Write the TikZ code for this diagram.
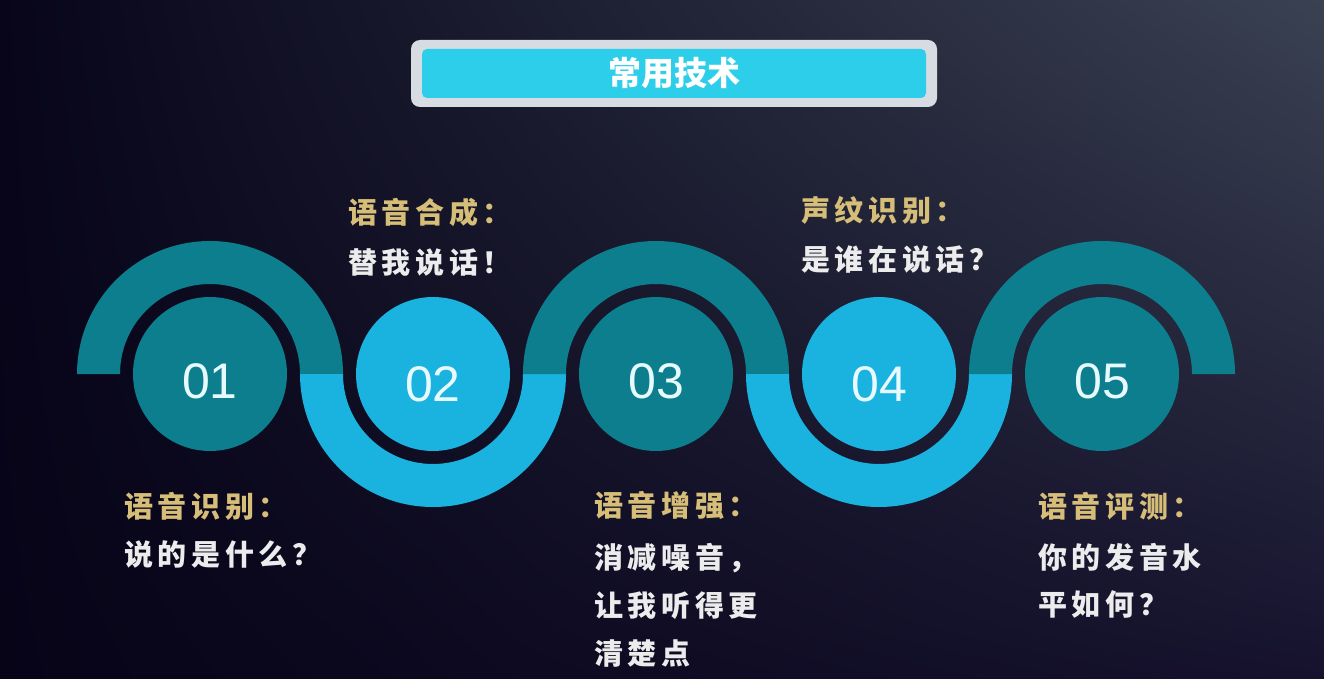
\documentclass[tikz,border=0pt]{standalone}
\usepackage{fontspec}
\usetikzlibrary{shadings}
\setmainfont{Liberation Sans}
\newfontfamily\cjk{Noto Sans CJK SC}
\newfontfamily\cjkwide[LetterSpace=16]{Noto Sans CJK SC}
\definecolor{bandteal}{RGB}{12,126,142}
\definecolor{bandcyan}{RGB}{26,178,222}
\definecolor{boxgray}{RGB}{214,220,226}
\definecolor{boxcyan}{RGB}{44,206,234}
\definecolor{goldtxt}{RGB}{214,190,120}
\definecolor{whitetxt}{RGB}{236,236,236}
\definecolor{numtxt}{RGB}{230,250,255}
\definecolor{bgA}{RGB}{8,5,26}
\definecolor{bgB}{RGB}{58,66,82}
\definecolor{bgC}{RGB}{7,4,24}
\definecolor{bgD}{RGB}{22,18,46}
\tikzset{
  numcirc/.style={circle, minimum size=154pt, inner sep=0pt, text=numtxt,
    font=\fontsize{50}{50}\selectfont, text depth=0pt},
  oddc/.style={numcirc, fill=bandteal, text height=48pt},
  evenc/.style={numcirc, fill=bandcyan, text height=54pt},
  headline/.style={anchor=base west, inner sep=0pt, text=goldtxt,
    font=\cjkwide\bfseries\fontsize{29}{29}\selectfont},
  bodyline/.style={anchor=base west, inner sep=0pt, text=whitetxt,
    font=\cjkwide\bfseries\fontsize{29}{29}\selectfont},
}
\begin{document}
\begin{tikzpicture}[x=1pt,y=-1pt]
\useasboundingbox (0,0) rectangle (1324,679);
\shade[upper left=bgA, upper right=bgB, lower left=bgC, lower right=bgD] (0,0) rectangle (1324,679);
% title
\node[rectangle, rounded corners=9pt, fill=boxgray, minimum width=526pt, minimum height=67pt] (titlebox) at (674,73.5) {};
\node[rectangle, rounded corners=5pt, fill=boxcyan, minimum width=504pt, minimum height=49pt, text=white,
  font=\cjk\bfseries\fontsize{33}{33}\selectfont] (title) at (titlebox.center) {常用技术};
% bands
\def\ro{133}\def\ri{90}
\fill[bandteal, shift={(210,374)}] (-\ro,0) arc[start angle=180, end angle=360, radius=\ro] -- (\ri,0) arc[start angle=0, end angle=-180, radius=\ri] -- cycle;
\fill[bandcyan, shift={(433,374)}] (-\ro,0) arc[start angle=180, end angle=0, radius=\ro] -- (\ri,0) arc[start angle=0, end angle=180, radius=\ri] -- cycle;
\fill[bandteal, shift={(656,374)}] (-\ro,0) arc[start angle=180, end angle=360, radius=\ro] -- (\ri,0) arc[start angle=0, end angle=-180, radius=\ri] -- cycle;
\fill[bandcyan, shift={(879,374)}] (-\ro,0) arc[start angle=180, end angle=0, radius=\ro] -- (\ri,0) arc[start angle=0, end angle=180, radius=\ri] -- cycle;
\fill[bandteal, shift={(1102,374)}] (-\ro,0) arc[start angle=180, end angle=360, radius=\ro] -- (\ri,0) arc[start angle=0, end angle=-180, radius=\ri] -- cycle;
% circles
\node[oddc] (c1) at (210,374) {01};
\node[evenc] (c2) at (433,374) {02};
\node[oddc] (c3) at (656,374) {03};
\node[evenc] (c4) at (879,374) {04};
\node[oddc] (c5) at (1102,374) {05};
% texts
\node[headline] (h1) at (124,517) {语音识别：};
\node[bodyline] (b1a) at (124,565) {说的是什么？};
\node[headline] (h2) at (348,223) {语音合成：};
\node[bodyline] (b2a) at (348,273) {替我说话！};
\node[headline] (h3) at (594,516) {语音增强：};
\node[bodyline] (b3a) at (594,568) {消减噪音，};
\node[bodyline] (b3b) at (594,616) {让我听得更};
\node[bodyline] (b3c) at (594,664) {清楚点};
\node[headline] (h4) at (801,221) {声纹识别：};
\node[bodyline] (b4a) at (801,270) {是谁在说话？};
\node[headline] (h5) at (1038,517) {语音评测：};
\node[bodyline] (b5a) at (1038,568) {你的发音水};
\node[bodyline] (b5b) at (1038,615) {平如何？};
\end{tikzpicture}
\end{document}
